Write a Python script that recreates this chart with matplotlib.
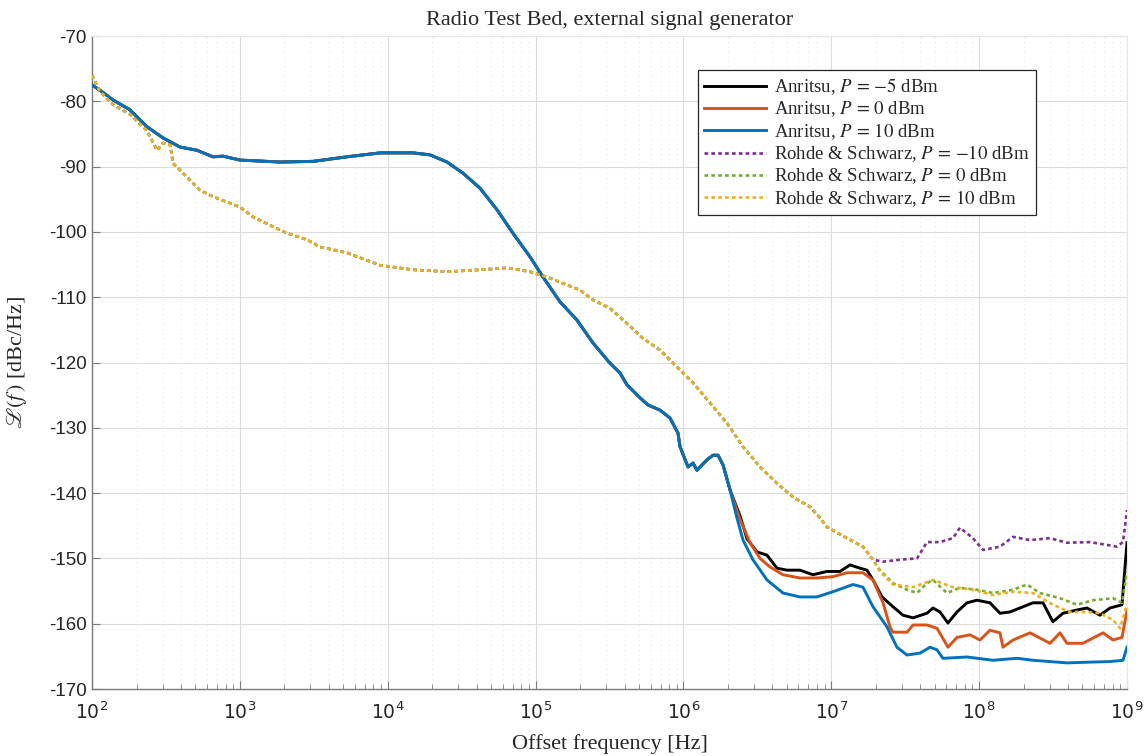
import matplotlib
matplotlib.use('Agg')
import matplotlib.pyplot as plt
import numpy as np
from matplotlib.ticker import FixedLocator, LogLocator, NullFormatter

plt.rcParams['font.family'] = ['Liberation Serif', 'DejaVu Serif']
plt.rcParams['mathtext.fontset'] = 'stix'
plt.rcParams['axes.unicode_minus'] = False

# Offset frequency as log10(Hz), phase noise in dBc/Hz
anr_common_logf = [2.000, 2.054, 2.142, 2.257, 2.372, 2.480, 2.595, 2.710, 2.818, 2.886,
                   3.001, 3.271, 3.495, 3.725, 3.948, 4.171, 4.286, 4.401, 4.509, 4.624,
                   4.739, 4.847, 4.962, 5.050, 5.165, 5.280, 5.388, 5.503, 5.571, 5.618,
                   5.706, 5.760, 5.842, 5.909, 5.963, 5.977, 6.031, 6.065, 6.092, 6.159,
                   6.200, 6.234, 6.268, 6.315]
anr_common_db = [-77.5, -78.3, -79.8, -81.3, -83.9, -85.6, -87.0, -87.5, -88.5, -88.4,
                 -89.0, -89.3, -89.2, -88.5, -87.9, -87.9, -88.2, -89.3, -91.0, -93.3,
                 -96.6, -100.2, -103.8, -106.9, -110.7, -113.5, -117.0, -120.1, -121.6, -123.4,
                 -125.4, -126.5, -127.3, -128.5, -130.8, -132.9, -136.0, -135.4, -136.5, -134.9,
                 -134.2, -134.2, -135.7, -139.5]

anr_m5_logf = [6.383, 6.430, 6.497, 6.565, 6.633, 6.700, 6.788, 6.876, 6.971, 7.059,
               7.127, 7.194, 7.241, 7.282, 7.343, 7.417, 7.485, 7.553, 7.647, 7.688,
               7.735, 7.789, 7.850, 7.918, 7.985, 8.073, 8.141, 8.209, 8.297, 8.364,
               8.432, 8.499, 8.567, 8.662, 8.729, 8.817, 8.885, 8.966, 9.000]
anr_m5_db = [-143.5, -147.0, -149.0, -149.5, -151.5, -151.8, -151.8, -152.5, -152.0, -152.0,
             -151.0, -151.5, -151.8, -153.3, -155.9, -157.4, -158.7, -159.1, -158.4, -157.6,
             -158.2, -159.9, -158.2, -156.8, -156.4, -156.8, -158.4, -158.2, -157.4, -156.8,
             -156.8, -159.7, -158.4, -157.9, -157.6, -158.7, -157.6, -157.1, -147.6]

anr_0_logf = [6.383, 6.450, 6.518, 6.585, 6.673, 6.788, 6.903, 7.011, 7.106, 7.214,
              7.282, 7.350, 7.397, 7.417, 7.512, 7.553, 7.647, 7.715, 7.789, 7.850,
              7.938, 8.006, 8.073, 8.141, 8.161, 8.229, 8.344, 8.479, 8.547, 8.594,
              8.702, 8.838, 8.905, 8.966, 9.000]
anr_0_db = [-144.0, -147.6, -150.0, -151.3, -152.5, -153.0, -153.0, -152.8, -152.2, -152.2,
            -153.3, -156.8, -160.5, -161.3, -161.3, -160.2, -160.2, -160.7, -163.6, -162.1,
            -161.7, -162.5, -161.0, -161.4, -163.6, -162.5, -161.4, -163.0, -161.4, -163.0,
            -163.0, -161.4, -162.5, -162.1, -158.0]

anr_10_logf = [6.362, 6.403, 6.470, 6.565, 6.673, 6.788, 6.903, 7.011, 7.147, 7.214,
               7.282, 7.377, 7.444, 7.512, 7.600, 7.668, 7.715, 7.755, 7.918, 8.094,
               8.256, 8.364, 8.594, 8.729, 8.885, 8.973, 9.000]
anr_10_db = [-143.8, -147.2, -150.2, -153.3, -155.3, -155.9, -155.9, -155.1, -154.0, -154.4,
             -157.4, -160.5, -163.6, -164.8, -164.5, -163.6, -164.0, -165.3, -165.1, -165.6,
             -165.3, -165.6, -166.0, -165.9, -165.8, -165.6, -163.6]

rs_common_logf = [2.000, 2.054, 2.142, 2.257, 2.372, 2.440, 2.480, 2.528, 2.548, 2.642,
                  2.730, 2.818, 2.933, 3.001, 3.089, 3.224, 3.319, 3.454, 3.542, 3.725,
                  3.948, 4.171, 4.401, 4.624, 4.807, 4.962, 5.077, 5.165, 5.300, 5.388,
                  5.503, 5.618, 5.726, 5.842, 5.957, 6.065, 6.180, 6.295, 6.403, 6.518,
                  6.633, 6.741, 6.856, 6.924, 6.971, 7.106, 7.214]
rs_common_db = [-76.0, -78.5, -80.5, -82.0, -84.5, -87.5, -86.4, -86.7, -89.5, -91.6,
                -93.6, -94.6, -95.6, -96.2, -97.7, -99.2, -100.2, -101.2, -102.3, -103.2,
                -105.1, -105.8, -106.1, -105.8, -105.5, -106.1, -106.9, -107.7, -108.9, -110.4,
                -111.7, -114.0, -116.3, -118.1, -120.7, -123.1, -126.2, -129.3, -132.9, -136.0,
                -138.5, -140.6, -142.1, -143.8, -145.2, -146.9, -148.2]

rs_m10_logf = [7.282, 7.350, 7.465, 7.580, 7.647, 7.735, 7.823, 7.870, 7.958, 8.026,
               8.141, 8.229, 8.344, 8.479, 8.594, 8.750, 8.932, 8.973, 9.000]
rs_m10_db = [-150.2, -150.5, -150.2, -150.0, -147.5, -147.5, -146.9, -145.3, -146.9, -148.7,
             -148.2, -146.7, -147.2, -146.9, -147.6, -147.5, -148.2, -147.5, -142.6]

rs_0_logf = [7.282, 7.329, 7.417, 7.512, 7.580, 7.647, 7.688, 7.782, 7.870, 7.985,
             8.094, 8.229, 8.324, 8.411, 8.547, 8.662, 8.770, 8.905, 8.966, 9.000]
rs_0_db = [-150.2, -151.8, -153.8, -154.8, -155.3, -153.8, -153.3, -155.3, -154.5, -154.8,
           -155.3, -154.8, -154.0, -155.3, -156.1, -157.1, -156.4, -156.1, -156.8, -152.0]

rs_10_logf = [7.282, 7.329, 7.417, 7.553, 7.688, 7.823, 7.958, 8.094, 8.229, 8.364,
              8.499, 8.614, 8.729, 8.817, 8.905, 8.953, 9.000]
rs_10_db = [-150.2, -152.0, -154.0, -154.4, -153.3, -154.4, -154.8, -155.6, -155.1, -155.3,
            -157.1, -158.2, -158.2, -158.4, -159.4, -160.7, -157.0]

labels = [r'Anritsu, $P\,=\,{-5}$ dBm', r'Anritsu, $P\,=\,0$ dBm', r'Anritsu, $P\,=\,10$ dBm',
          r'Rohde & Schwarz, $P\,=\,{-10}$ dBm', r'Rohde & Schwarz, $P\,=\,0$ dBm',
          r'Rohde & Schwarz, $P\,=\,10$ dBm']
colors = ['#000000', '#D95319', '#0072BD', '#7E2F8E', '#77AC30', '#EDB120']


def join(common_x, common_y, tail_x, tail_y):
    x = 10.0 ** np.array(common_x + tail_x)
    y = np.array(common_y + tail_y)
    return x, y


series = [
    join(anr_common_logf, anr_common_db, anr_m5_logf, anr_m5_db),
    join(anr_common_logf, anr_common_db, anr_0_logf, anr_0_db),
    join(anr_common_logf, anr_common_db, anr_10_logf, anr_10_db),
    join(rs_common_logf, rs_common_db, rs_m10_logf, rs_m10_db),
    join(rs_common_logf, rs_common_db, rs_0_logf, rs_0_db),
    join(rs_common_logf, rs_common_db, rs_10_logf, rs_10_db),
]

fig = plt.figure(figsize=(11.48, 7.56), dpi=100)
ax = fig.add_axes([92 / 1148, 1 - 689 / 756, 1035 / 1148, 653 / 756])

for i, (x, y) in enumerate(series):
    if i < 3:
        ax.plot(x, y, color=colors[i], lw=2.1, label=labels[i], zorder=3)
    else:
        ax.plot(x, y, color=colors[i], lw=1.9, linestyle=(0, (1.4, 1.2)),
                label=labels[i], zorder=3)

ax.set_xscale('log')
ax.set_xlim(1e2, 1e9)
ax.set_ylim(-170, -70)
ax.yaxis.set_major_locator(FixedLocator(np.arange(-170, -69, 10)))
ax.set_yticklabels([str(v) for v in range(-170, -69, 10)])
ax.xaxis.set_major_locator(FixedLocator([10.0 ** k for k in range(2, 10)]))
ax.set_xticklabels([r'$10^{%d}$' % k for k in range(2, 10)])
ax.xaxis.set_minor_locator(LogLocator(base=10, subs=np.arange(2, 10), numticks=20))
ax.xaxis.set_minor_formatter(NullFormatter())

for lab in ax.get_xticklabels():
    lab.set_math_fontfamily('dejavusans')
for lab in ax.get_xticklabels() + ax.get_yticklabels():
    lab.set_fontfamily('Liberation Sans')
    lab.set_fontsize(13.5)
    lab.set_color('#262626')

ax.tick_params(axis='both', which='major', direction='in', length=6, width=0.8,
               color='#7a7a7a', top=False, right=False, pad=4)
ax.tick_params(axis='x', which='minor', direction='in', length=3.5, width=0.6,
               color='#7a7a7a', top=False)
ax.tick_params(axis='x', which='major', pad=9)

ax.grid(True, which='major', color='#dcdcdc', lw=0.8, linestyle='-', zorder=0)
ax.grid(True, which='minor', axis='x', color='#e2e2e2', lw=0.7, linestyle=(0, (1, 4)), zorder=0)
ax.set_axisbelow(True)

for side in ['top', 'right']:
    ax.spines[side].set_color('#e6e6e6')
    ax.spines[side].set_linewidth(0.8)
for side in ['left', 'bottom']:
    ax.spines[side].set_color('#7a7a7a')
    ax.spines[side].set_linewidth(1.0)

ax.set_title('Radio Test Bed, external signal generator', fontsize=16, color='#262626', pad=8)
ax.set_xlabel('Offset frequency [Hz]', fontsize=16, color='#262626', labelpad=8)
ax.set_ylabel(r'$\mathscr{L}(f\,)$ [dBc/Hz]', fontsize=16, color='#262626', labelpad=14)

leg = ax.legend(loc='upper right', bbox_to_anchor=(0.912, 0.948), borderaxespad=0,
                fontsize=13.5, handlelength=3.3, labelspacing=0.1, borderpad=0.35,
                handletextpad=0.4, fancybox=False, framealpha=1, edgecolor='#262626')
leg.get_frame().set_linewidth(0.9)
for t in leg.get_texts():
    t.set_color('#262626')

fig.savefig('out.png', dpi=100)
